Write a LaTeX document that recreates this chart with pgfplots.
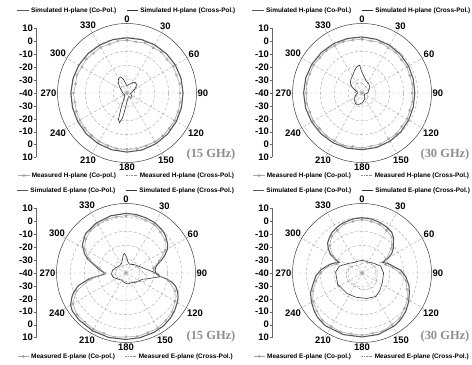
\documentclass[border=0pt]{standalone}
\usepackage{fontspec}
\setmainfont{Liberation Sans}
\newfontfamily\serifbf{Liberation Serif}
\usepackage{pgfplots}
\pgfplotsset{compat=1.18}
\usepgfplotslibrary{polar}
\pgfplotsset{
  common/.style={scale only axis, width=139bp, height=139bp, anchor=center,
    xmin=0, xmax=360, ymin=0, ymax=50,
    x filter/.expression={90-x}, y filter/.expression={y+40},
    clip=false, legend columns=2,
    legend style={draw=none, fill=none, font=\fontsize{6.5}{7}\selectfont\bfseries, anchor=center, inner sep=0pt, /tikz/every even column/.append style={column sep=8bp}},
    legend image code/.code={\draw[mark repeat=2,mark phase=2,##1] plot coordinates {(0cm,0cm) (0.2cm,0cm) (0.4cm,0cm)};},
    /pgf/number format/assume math mode=true},
  panel/.style={common,
    xtick={0,30,...,330}, xticklabels={90,60,30,0,330,300,270,240,210,180,150,120},
    ytick={10,20,30,40}, yticklabels={}, ytick style={draw=none},
    grid=major, major grid style={densely dashed, black!35, line width=0.4pt},
    axis line style={black!75, line width=0.5pt},
    y axis line style={draw=none},
    xticklabel style={font=\fontsize{9.5}{11}\selectfont\bfseries, inner sep=1pt}},
  meas/.style={common, hide axis},
  scalebar/.style={scale only axis, width=5bp, height=129bp, anchor=west,
    xmin=0, xmax=1, ymin=-5, ymax=5, axis x line=none, axis y line=left,
    y axis line style={-, black!60}, ytick={-5,...,5},
    yticklabels={10,0,-10,-20,-30,-40,-30,-20,-10,0,10},
    tick align=outside, major tick length=2bp, tick style={black!60},
    yticklabel style={font=\fontsize{9.5}{11}\selectfont\bfseries, inner sep=1pt}},
  simco/.style={draw=black!65, line width=1.1pt, no marks},
  simx/.style={draw=black!80, line width=0.6pt, no marks},
  measco/.style={draw=black!35, line width=0.6pt, mark=o, mark size=1.2pt, mark options={solid, black!40, line width=0.4pt}},
  measx/.style={draw=black!45, line width=0.5pt, no marks, dash pattern=on 2pt off 1pt on 0.5pt off 1pt},
}
\begin{document}
\begin{tikzpicture}
% ---------------- Panel 1: H-plane 15 GHz ----------------
\begin{polaraxis}[panel, at={(127bp,272bp)}, legend style={at={(0.5,1.093)}}]
\addplot[simco] coordinates {(0,-0.3) (15,-0.2) (30,-0.1) (45,0) (60,0.2) (75,0.3) (90,0.3) (105,0.6) (120,1.0) (135,1.5) (150,2.0) (165,2.4) (180,2.5) (195,2.3) (210,1.9) (225,1.5) (240,1.0) (255,0.6) (270,0.4) (285,0.2) (300,0) (315,-0.2) (330,-0.3) (345,-0.3) (360,-0.3)};
\addlegendentry{Simulated H-plane (Co-Pol.)}
\addplot[simx] coordinates {(0,-35) (10,-34) (20,-33) (30,-31) (40,-30.5) (50,-31) (60,-33) (70,-35) (80,-36.5) (90,-37) (100,-37.5) (110,-37) (120,-36) (130,-35.5) (140,-36) (150,-37) (160,-37) (170,-36) (180,-34) (186,-29) (190,-22) (194,-18) (198,-20) (202,-29) (207,-35) (215,-37) (230,-38) (250,-37.5) (270,-37) (290,-36) (300,-35) (310,-33) (320,-30) (330,-28) (338,-27.5) (345,-29.5) (352,-33) (360,-35)};
\addlegendentry{Simulated H-plane (Cross-Pol.)}
\end{polaraxis}
\begin{polaraxis}[meas, at={(127bp,272bp)}, legend style={at={(0.5,-0.093)}}]
\addplot[measco] coordinates {(0,-2.0) (10,-2.6) (20,-1.8) (30,-2.3) (40,-1.6) (50,-2.4) (60,-1.5) (70,-2.2) (80,-1.4) (90,-2.0) (100,-1.2) (110,-1.0) (120,-0.6) (130,-0.4) (140,0.2) (150,0.5) (160,0.3) (170,0.8) (180,0.6) (190,0.9) (200,0.3) (210,0.1) (220,-0.2) (230,-0.6) (240,-0.9) (250,-1.3) (260,-1.9) (270,-1.5) (280,-2.4) (290,-1.7) (300,-2.5) (310,-1.9) (320,-2.6) (330,-2.0) (340,-2.7) (350,-2.1) (360,-2.0)};
\addlegendentry{Measured H-plane (Co-pol.)}
\addplot[measx] coordinates {(0,-35) (20,-33) (40,-31) (50,-30.5) (60,-32) (80,-34.5) (100,-35) (120,-34) (140,-35) (160,-35.5) (180,-34) (200,-34.5) (220,-36) (240,-37) (260,-36.5) (280,-36) (300,-35) (320,-34) (340,-34.5) (360,-35)};
\addlegendentry{Measured H-plane (Cross-Pol.)}
\end{polaraxis}
\begin{axis}[scalebar, at={(36bp,272bp)}]
\end{axis}
% ---------------- Panel 2: H-plane 30 GHz ----------------
\begin{polaraxis}[panel, at={(362bp,272bp)}, legend style={at={(0.5,1.093)}}]
\addplot[simco] coordinates {(0,0.3) (15,0) (30,-0.4) (45,-0.8) (60,-1.3) (75,-1.8) (90,-2.0) (105,-1.8) (120,-1.2) (135,-0.5) (150,0.1) (165,0.6) (180,0.8) (195,1.1) (210,1.4) (225,1.6) (240,1.8) (255,2.0) (270,2.0) (285,1.9) (300,1.6) (315,1.3) (330,1.0) (345,0.6) (360,0.3)};
\addlegendentry{Simulated H-plane (Co-Pol.)}
\addplot[simx] coordinates {(0,-25) (10,-29) (20,-31) (30,-31.5) (40,-32) (50,-33) (60,-34) (70,-35) (80,-35.5) (90,-36) (100,-37) (110,-38) (120,-38) (130,-38) (140,-37) (150,-36) (160,-35) (170,-34) (180,-33) (190,-32) (200,-31) (210,-31) (220,-32) (230,-33) (240,-34) (250,-35) (260,-36) (270,-37) (280,-37) (290,-35) (300,-32) (310,-29) (320,-27.5) (330,-26) (340,-23.5) (345,-22) (350,-20.5) (355,-20) (360,-25)};
\addlegendentry{Simulated H-plane (Cross-Pol.)}
\end{polaraxis}
\begin{polaraxis}[meas, at={(362bp,272bp)}, legend style={at={(0.5,-0.093)}}]
\addplot[measco] coordinates {(0,-1.3) (10,-2.0) (20,-1.3) (30,-2.4) (40,-2.0) (50,-2.9) (60,-2.6) (70,-3.5) (80,-3.2) (90,-3.9) (100,-3.2) (110,-3.5) (120,-2.5) (130,-2.6) (140,-1.6) (150,-1.8) (160,-0.9) (170,-1.2) (180,-0.5) (190,-0.9) (200,-0.1) (210,-0.5) (220,0.2) (230,-0.2) (240,0.5) (250,-0.1) (260,0.7) (270,0.1) (280,0.6) (290,-0.1) (300,0.3) (310,-0.5) (320,-0.1) (330,-0.9) (340,-0.6) (350,-1.4) (360,-1.3)};
\addlegendentry{Measured H-plane (Co-pol.)}
\addplot[measx] coordinates {(0,-33) (20,-34) (40,-35) (60,-34) (80,-35) (100,-36) (120,-35) (140,-34) (160,-33) (180,-32) (200,-31) (220,-33) (240,-35) (260,-36) (280,-35) (300,-34) (320,-33) (340,-32) (360,-33)};
\addlegendentry{Measured H-plane (Cross-Pol.)}
\end{polaraxis}
\begin{axis}[scalebar, at={(272bp,272bp)}]
\end{axis}
% ---------------- Panel 3: E-plane 15 GHz ----------------
\begin{polaraxis}[panel, at={(126bp,92bp)}, legend style={at={(0.5,1.093)}}]
\addplot[simco] coordinates {(0,2.9) (10,2.7) (20,2.2) (30,1.7) (40,0.4) (45,-0.5) (50,-2.0) (55,-3.5) (60,-5.5) (65,-9.0) (70,-12.8) (75,-16.7) (80,-18.5) (85,-19.0) (90,-18.5) (95,-16.5) (98,-11) (101,-6.5) (105,-3.0) (110,-0.5) (115,1.4) (120,2.6) (128,4.3) (135,5.5) (145,6.7) (155,7.2) (168,7.6) (180,7.8) (195,8.0) (210,8.0) (225,7.8) (235,7.3) (240,6.0) (246,2.6) (250,0.0) (255,-4.4) (261,-13) (265,-22) (268,-25) (272,-23.7) (278,-20) (284,-16.6) (290,-10.8) (295,-7.0) (303,-2.6) (314,0.6) (329,1.8) (345,2.6) (360,2.9)};
\addlegendentry{Simulated E-plane (Co-Pol.)}
\addplot[simx] coordinates {(0,-28) (5,-30) (10,-32) (20,-33) (30,-33) (40,-32) (50,-31) (60,-30) (70,-28) (80,-25) (87,-21) (92,-17) (96,-15) (100,-20) (105,-24) (110,-27) (120,-29) (130,-30) (140,-31) (150,-32) (170,-32) (190,-33) (210,-34) (230,-33) (250,-30.5) (265,-29.5) (280,-30) (300,-32) (320,-33) (335,-32.5) (345,-30) (352,-26.5) (356,-26) (360,-28)};
\addlegendentry{Simulated E-plane (Cross-Pol.)}
\end{polaraxis}
\begin{polaraxis}[meas, at={(126bp,92bp)}, legend style={at={(0.5,-0.1)}}]
\addplot[measco] coordinates {(0,1.2) (10,1.6) (20,0.5) (30,0.4) (40,-1.5) (50,-3.2) (60,-7.5) (70,-14.5) (80,-20) (90,-20) (100,-9) (110,-2.5) (120,0.8) (130,3.4) (140,4.6) (150,5.8) (160,5.7) (170,6.4) (180,6.0) (190,6.8) (200,6.3) (210,6.7) (220,6.2) (230,6.3) (240,4.2) (250,-2.0) (260,-14) (270,-25) (280,-20.5) (290,-12) (300,-5.5) (310,-2.2) (320,-0.1) (330,0.1) (340,1.1) (350,1.1) (360,1.2)};
\addlegendentry{Measured E-plane (Co-pol.)}
\addplot[measx] coordinates {(0,-34) (30,-33) (60,-31) (80,-29) (95,-26) (105,-24) (115,-25.5) (125,-29) (140,-32) (160,-33) (200,-34) (240,-33) (270,-32) (300,-33) (330,-34) (360,-34)};
\addlegendentry{Measured E-plane (Cross-Pol.)}
\end{polaraxis}
\begin{axis}[scalebar, at={(36bp,92bp)}]
\end{axis}
% ---------------- Panel 4: E-plane 30 GHz ----------------
\begin{polaraxis}[panel, at={(362bp,92bp)}, legend style={at={(0.5,1.093)}}]
\addplot[simco] coordinates {(0,-0.2) (10,-0.6) (20,-1.5) (28,-2.5) (36,-3.7) (42,-6) (46,-8.7) (52,-11.5) (57,-14.6) (60,-18) (63,-23.5) (68,-21) (73,-19) (78,-17) (86,-12) (95,-8.4) (105,-5) (113,-3) (122,-0.5) (131,1.8) (140,3.5) (148,4.6) (165,5.8) (180,6.0) (197,6.3) (215,6.2) (225,5.2) (231,4.0) (240,2.0) (249,-0.3) (259,-4.5) (267,-7.0) (275,-10.7) (285,-16) (290,-19) (295,-22) (298,-17) (301,-13.3) (306,-10) (311,-7.2) (318,-5.2) (324,-3.6) (332,-2.4) (339,-1.5) (350,-0.6) (360,-0.2)};
\addlegendentry{Simulated E-plane (Co-Pol.)}
\addplot[simx] coordinates {(0,-31) (15,-31) (30,-31) (50,-29) (70,-25.7) (90,-24.5) (115,-23.8) (135,-22) (150,-20.4) (170,-21.4) (195,-22) (217,-21.8) (245,-20.7) (272,-21) (287,-23) (305,-28) (322,-30.4) (340,-31) (360,-31)};
\addlegendentry{Simulated E-plane (Cross-Pol.)}
\end{polaraxis}
\begin{polaraxis}[meas, at={(362bp,92bp)}, legend style={at={(0.5,-0.1)}}]
\addplot[measco] coordinates {(0,-1.4) (10,-2.4) (20,-2.8) (30,-4.6) (40,-6.4) (50,-12.5) (60,-20) (70,-22) (80,-17.5) (90,-12.5) (100,-7.9) (110,-5.5) (120,-2.2) (130,-0.3) (140,2.3) (150,3.0) (160,4.3) (170,4.1) (180,4.8) (190,4.4) (200,5.1) (210,4.4) (220,4.5) (230,2.4) (240,0.8) (250,-2.5) (260,-6.2) (270,-10.2) (280,-14.5) (290,-21) (300,-16) (310,-9.6) (320,-5.9) (330,-4.5) (340,-2.6) (350,-2.4) (360,-1.4)};
\addlegendentry{Measured E-plane (Co-pol.)}
\addplot[measx] coordinates {(0,-33) (20,-32) (40,-31) (60,-30) (80,-29) (100,-29) (120,-28) (140,-27) (160,-27.5) (180,-28) (200,-29) (220,-29) (240,-28.5) (260,-28.5) (280,-29) (300,-31) (320,-33) (340,-34) (360,-33)};
\addlegendentry{Measured E-plane (Cross-Pol.)}
\end{polaraxis}
\begin{axis}[scalebar, at={(272bp,92bp)}]
\end{axis}
% frequency labels
\node[font=\serifbf\fontsize{12.5}{14}\selectfont\bfseries, text=black!45] at (211bp,210bp) {(15 GHz)};
\node[font=\serifbf\fontsize{12.5}{14}\selectfont\bfseries, text=black!45] at (445bp,210bp) {(30 GHz)};
\node[font=\serifbf\fontsize{12.5}{14}\selectfont\bfseries, text=black!45] at (211bp,28bp) {(15 GHz)};
\node[font=\serifbf\fontsize{12.5}{14}\selectfont\bfseries, text=black!45] at (445bp,28bp) {(30 GHz)};
\pgfresetboundingbox
\path (0,0) rectangle (472bp,365bp);
\end{tikzpicture}
\end{document}
